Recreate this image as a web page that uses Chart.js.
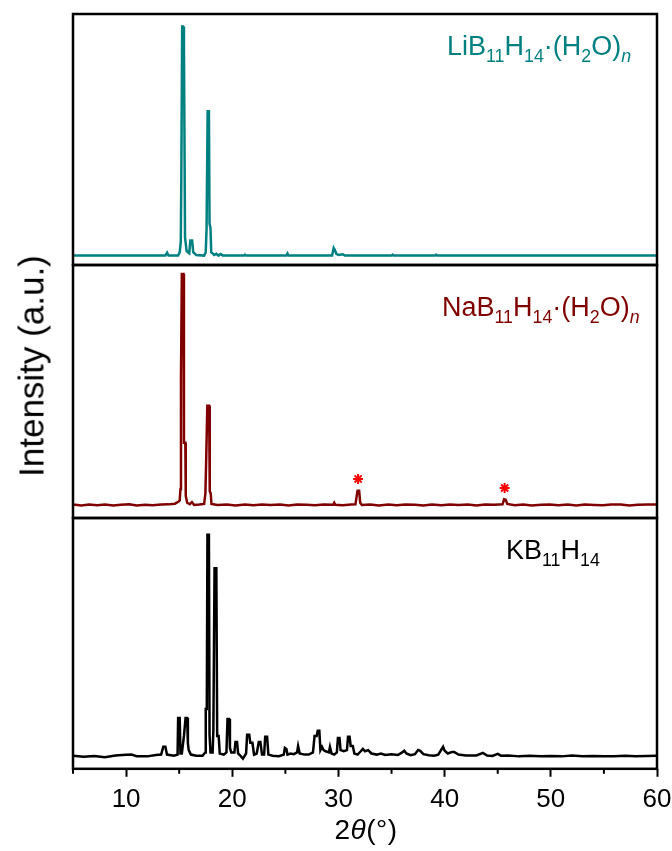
<!DOCTYPE html>
<html>
<head>
<meta charset="utf-8">
<script src="https://cdn.jsdelivr.net/npm/chart.js@4.4.1/dist/chart.umd.min.js"></script>
<style>
  html, body { margin: 0; padding: 0; background: #fff; }
  #wrap { position: relative; width: 672px; height: 851px; overflow: hidden; font-family: 'Liberation Sans', Arial, sans-serif; }
  canvas { position: absolute; left: 0; }
  .lbl { position: absolute; font-size: 27px; line-height: 27px; white-space: nowrap; }
  .lbl sub { font-size: 0.66em; vertical-align: -0.38em; line-height: 0; }
  #ytitle { position: absolute; font-size: 35px; line-height: 35px; white-space: nowrap; transform: translate(-50%, -50%) rotate(-90deg); left: 31px; top: 366px; }
  #xtitle { position: absolute; font-size: 28px; line-height: 28px; white-space: nowrap; transform: translateX(-50%); left: 366px; top: 816px; letter-spacing: 0.5px; }
</style>
</head>
<body>
<div id="wrap">
  <canvas id="cLi" width="672" height="280" style="top:0px"></canvas>
  <canvas id="cNa" width="672" height="280" style="top:250px"></canvas>
  <canvas id="cK"  width="679" height="351" style="top:500px"></canvas>
  <div class="lbl" style="left:447px; top:33px; color:#008080">LiB<sub>11</sub>H<sub>14</sub>·(H<sub>2</sub>O)<sub><i>n</i></sub></div>
  <div class="lbl" style="left:442px; top:294px; color:#800000">NaB<sub>11</sub>H<sub>14</sub>·(H<sub>2</sub>O)<sub><i>n</i></sub></div>
  <div class="lbl" style="left:506px; top:537px; color:#000">KB<sub>11</sub>H<sub>14</sub></div>
  <div id="ytitle">Intensity (a.u.)</div>
  <div id="xtitle">2<i>θ</i>(°)</div>
</div>
<script>
// 2theta range and ticks
const xMin = 5, xMax = 60;
const xTicks = [10, 20, 30, 40, 50, 60];

// LiB11H14·(H2O)n  (relative intensity, main peak = 100)
const liAngle     = [5, 13.7, 13.86, 14.0, 14.9, 15.05, 15.15, 15.2, 15.28, 15.36, 15.45, 15.55, 15.7, 15.95, 16.05, 16.22, 16.32, 16.6, 17.35, 17.5, 17.58, 17.68, 17.8, 17.86, 17.95, 18.02, 18.3, 18.5, 18.7, 18.9, 19.1, 21.1, 21.2, 21.3, 25.1, 25.2, 25.3, 29.4, 29.55, 29.65, 29.8, 30.0, 30.4, 30.6, 35.0, 35.1, 35.2, 39.1, 39.2, 39.3, 60];
const liIntensity = [0, 0, 1.3, 0, 0, 1.5, 6, 33, 100, 100, 91, 8, 2, 1, 6.6, 6.6, 1.5, 0.3, 0, 1.5, 12, 63, 63, 14, 12, 1.5, 0.3, 0.8, 0, 0.7, 0, 0, 0.4, 0, 0, 0.9, 0, 0, 3.3, 2.5, 0.8, 0.3, 0.6, 0, 0, 0.4, 0, 0, 0.4, 0, 0];

// NaB11H14·(H2O)n
const naAngle     = [5, 5.8, 6.5, 7.3, 8.0, 8.8, 9.5, 10.3, 11.0, 11.8, 12.5, 13.3, 14.0, 14.6, 14.95, 15.05, 15.12, 15.17, 15.25, 15.4, 15.45, 15.58, 15.62, 15.75, 16.0, 16.2, 16.4, 16.9, 17.35, 17.47, 17.55, 17.65, 17.82, 17.88, 17.97, 18.04, 18.6, 19.5, 20.3, 21.2, 22.0, 22.8, 23.6, 24.5, 25.3, 26.1, 27.0, 27.8, 28.6, 29.5, 29.6, 29.7, 30.4, 31.2, 31.6, 31.72, 31.8, 31.95, 32.05, 32.2, 33.0, 33.8, 34.7, 35.5, 36.3, 37.2, 38.0, 38.8, 39.7, 40.5, 41.3, 42.2, 43.0, 43.8, 44.7, 45.45, 45.6, 45.75, 45.9, 46.6, 47.4, 48.2, 49.1, 49.9, 50.7, 51.6, 52.4, 53.2, 54.1, 54.9, 55.7, 56.6, 57.4, 58.2, 59.1, 60];
const naIntensity = [0.2, -0.2, 0.2, -0.1, 0.2, -0.2, 0.1, 0.3, -0.2, 0.1, -0.1, 0.2, 0.3, 0.6, 1.5, 2, 7, 56, 100, 100, 27, 27, 4, 1, 0.4, 1.3, 0, 0.2, 0.5, 5, 21, 43, 43, 6, 5, 0.5, 0, 0.2, -0.2, 0.2, -0.1, 0.2, 0, 0.2, -0.2, 0.2, 0.1, -0.1, 0.2, 0.1, 1, 0.1, -0.1, 0.2, 0.3, 4, 6.2, 6.2, 1, 0, 0.2, -0.2, 0.2, -0.1, 0.2, 0.1, -0.2, 0.2, -0.1, 0.2, 0, 0.2, -0.2, 0.2, 0.1, 0.3, 2.5, 2.3, 0.5, -0.1, 0.2, -0.2, 0.1, 0.2, -0.1, 0.2, -0.2, 0.2, 0, -0.1, 0.2, 0.2, -0.2, 0.1, 0.2, 0.2];

// impurity markers (*) above the NaB11H14 pattern
const starAngle     = [31.85, 45.65];
const starIntensity = [11.3, 7.4];

// KB11H14
const kAngle     = [5, 6, 7, 8, 9, 10, 10.5, 11, 12, 12.8, 13.3, 13.5, 13.7, 13.85, 14.5, 14.85, 14.9, 15.05, 15.12, 15.25, 15.45, 15.6, 15.75, 15.82, 15.9, 16.1, 16.6, 17.2, 17.45, 17.5, 17.6, 17.66, 17.8, 17.86, 17.95, 18.15, 18.22, 18.33, 18.5, 18.58, 18.72, 18.82, 19.2, 19.45, 19.55, 19.7, 19.78, 19.9, 20.2, 20.3, 20.45, 20.55, 20.8, 21.0, 21.3, 21.4, 21.6, 21.7, 21.9, 22.05, 22.3, 22.5, 22.65, 22.8, 23.0, 23.1, 23.28, 23.4, 23.8, 24.4, 24.85, 24.95, 25.1, 25.2, 25.5, 25.8, 26.1, 26.2, 26.35, 26.8, 27.2, 27.6, 27.75, 27.95, 28.05, 28.2, 28.3, 28.45, 28.6, 28.8, 29.1, 29.2, 29.35, 29.6, 29.85, 29.95, 30.1, 30.2, 30.5, 30.8, 30.9, 31.05, 31.15, 31.35, 31.5, 31.8, 32.1, 32.3, 32.5, 32.8, 33.1, 33.6, 34.0, 34.4, 35.0, 35.6, 36.0, 36.2, 36.4, 36.8, 37.2, 37.5, 37.7, 38.0, 38.5, 39.0, 39.4, 39.85, 40.0, 40.3, 40.7, 40.9, 41.3, 42, 43.0, 43.6, 44.0, 44.5, 45.0, 45.3, 46, 47, 48, 49, 50, 51, 52, 53, 54, 55, 56, 57, 58, 59, 60];
const kIntensity = [0.5, 0, 0.4, -0.2, 0.6, 0.9, 1, 0.3, 0.2, 0.8, 1, 4.5, 4.5, 1, 0.5, 1, 17.5, 17.5, 1.5, 1.5, 9.4, 17.5, 17.5, 6, 3, 1, 0.5, 0.5, 2, 21.5, 21.5, 100, 100, 10, 2, 2, 12, 85, 85, 9.4, 9.4, 1.5, 1, 2, 17, 17, 4, 2, 2, 6.7, 6.7, 1.5, 0.3, -0.8, 1.5, 9.9, 9.9, 6.3, 6.3, 1, 1.5, 6.7, 6.7, 1, 1, 9, 9, 1, 0.5, 0.3, 1, 4, 3.5, 1, 1.5, 1.2, 2, 4.9, 1.5, 1, 1, 2, 9.4, 9.4, 11.7, 11.7, 3, 4.5, 3, 2.5, 2, 4.5, 1.5, 1, 2, 8.5, 8.5, 3, 2.5, 3, 9, 9, 4.9, 4.9, 1.5, 1, 2.5, 3.6, 2.5, 3, 1.5, 1, 1.5, 0.8, 1.2, 0.8, 2, 2.7, 1.5, 0.7, 1.2, 3.1, 2.7, 1.2, 0.7, 0.5, 1, 4.5, 2.7, 1.5, 2.2, 2.2, 1, 0.6, 0.6, 1.8, 0.6, 0.4, 1.3, 0.5, 0.6, 0.2, 0.5, 0.3, 0.4, 0.2, 0.6, 0.3, 0.4, 0.3, 0.2, 0.5, 0.3, 0.4, 0.5];

Chart.defaults.font.family = "'Liberation Sans', Arial, sans-serif";
Chart.defaults.color = '#000';
Chart.defaults.animation = false;

const toPts = (xs, ys) => xs.map((x, i) => ({ x: x, y: ys[i] }));

// panel frame + short minor ticks on the bottom axis
const framePlugin = {
  id: 'frame',
  afterDatasetsDraw(chart) {
    const { ctx, chartArea: a } = chart;
    ctx.save();
    ctx.strokeStyle = '#000';
    ctx.lineWidth = 2.5;
    ctx.strokeRect(a.left, a.top, a.right - a.left, a.bottom - a.top);
    const xs = chart.scales.x;
    if (xs.options.display) {
      ctx.lineWidth = 2;
      for (let v = xMin; v <= xMax; v += 10) {
        const px = xs.getPixelForValue(v);
        ctx.beginPath(); ctx.moveTo(px, a.bottom); ctx.lineTo(px, a.bottom + 5); ctx.stroke();
      }
    }
    ctx.restore();
  }
};

function panel(id, datasets, yMin, yMax, pad, showX) {
  return new Chart(document.getElementById(id), {
    type: 'line',
    data: { datasets: datasets },
    options: {
      responsive: false,
      layout: { padding: pad },
      plugins: { legend: { display: false }, tooltip: { enabled: false } },
      elements: { point: { radius: 0 }, line: { tension: 0 } },
      scales: {
        x: {
          type: 'linear', min: xMin, max: xMax, display: showX,
          border: { display: false },
          grid: { drawOnChartArea: false, drawTicks: true, tickLength: 8, tickWidth: 2,
                  tickColor: c => xTicks.includes(c.tick.value) ? '#000' : 'rgba(0,0,0,0)' },
          afterBuildTicks: s => { s.ticks = [5, 10, 15, 20, 25, 30, 35, 40, 45, 50, 55, 60].map(v => ({ value: v })); },
          ticks: { autoSkip: false, maxRotation: 0, padding: 7, color: '#000', font: { size: 26 },
                   callback: v => xTicks.includes(v) ? String(v) : '' }
        },
        y: { display: false, min: yMin, max: yMax }
      }
    },
    plugins: [framePlugin]
  });
}

panel('cLi', [
  { data: toPts(liAngle, liIntensity), borderColor: '#008080', borderWidth: 2.5 }
], -4.1, 105.5, { left: 73, right: 15, top: 14, bottom: 15 }, false);

panel('cNa', [
  { data: toPts(naAngle, naIntensity), borderColor: '#800000', borderWidth: 2.5 },
  { type: 'scatter', data: toPts(starAngle, starIntensity), showLine: false,
    pointStyle: 'star', pointRadius: 5, borderColor: '#ff0000', borderWidth: 2 }
], -5.6, 103.9, { left: 73, right: 15, top: 15, bottom: 12 }, false);

panel('cK', [
  { data: toPts(kAngle, kIntensity), borderColor: '#000', borderWidth: 2.5 }
], -5.4, 107.6, { left: 73, right: 22, top: 18, bottom: 29 }, true);
</script>
</body>
</html>
